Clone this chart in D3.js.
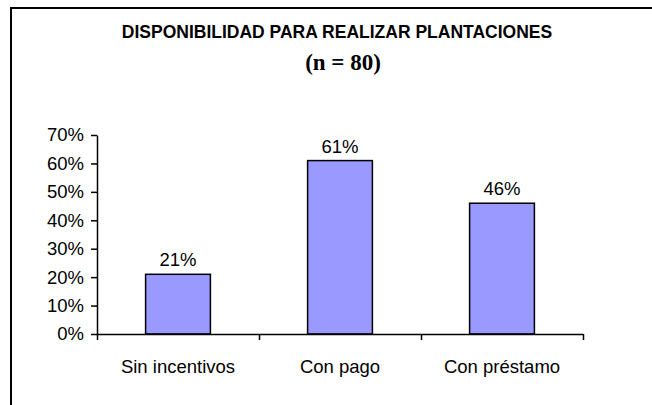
<!DOCTYPE html>
<html>
<head>
<meta charset="utf-8">
<script src="https://cdn.jsdelivr.net/npm/d3@7"></script>
<style>
  html, body { margin: 0; padding: 0; background: #fff; }
  svg { display: block; }
  text { font-family: "Liberation Sans", Arial, sans-serif; fill: #000; }
</style>
</head>
<body>
<svg id="chart" width="652" height="405"></svg>
<script>
const categories = ["Sin incentivos", "Con pago", "Con préstamo"];
const values = [0.21, 0.61, 0.46];
const yTicks = [0, 0.1, 0.2, 0.3, 0.4, 0.5, 0.6, 0.7];
const title = "DISPONIBILIDAD PARA REALIZAR PLANTACIONES";
const subtitle = "(n = 80)";

const svg = d3.select("#chart");

// outer frame (extends beyond the picture on right and bottom)
svg.append("rect")
  .attr("x", 11).attr("y", 8)
  .attr("width", 700).attr("height", 450)
  .attr("fill", "#fff").attr("stroke", "#000").attr("stroke-width", 2);

const x0 = 97, x1 = 583, yTop = 135, yBottom = 334;

const x = d3.scaleBand().domain(categories).range([x0, x1])
  .paddingInner(0.6).paddingOuter(0.3);
const xb = d3.scaleLinear().domain([0, categories.length]).range([x0, x1]);
const y = d3.scaleLinear().domain([0, 0.7]).range([yBottom, yTop]);

const axisFont = "18.5px";

// title
svg.append("text")
  .attr("x", 337).attr("y", 38)
  .attr("text-anchor", "middle")
  .style("font-weight", "bold").style("font-size", "17.5px")
  .text(title);
svg.append("text")
  .attr("x", 343).attr("y", 70)
  .attr("text-anchor", "middle")
  .style("font-family", "'Liberation Serif', 'Times New Roman', serif")
  .style("font-weight", "bold").style("font-size", "23px")
  .text(subtitle);

// bars
svg.selectAll("rect.bar").data(values).enter().append("rect")
  .attr("class", "bar")
  .attr("x", (d, i) => x(categories[i]))
  .attr("width", x.bandwidth())
  .attr("y", d => y(d))
  .attr("height", d => y(0) - y(d))
  .attr("fill", "#9999FF")
  .attr("stroke", "#000").attr("stroke-width", 1.5);

// value labels
svg.selectAll("text.val").data(values).enter().append("text")
  .attr("class", "val")
  .attr("x", (d, i) => x(categories[i]) + x.bandwidth() / 2)
  .attr("y", d => y(d) - 8)
  .attr("text-anchor", "middle")
  .style("font-size", axisFont)
  .text(d => d3.format(".0%")(d));

// y axis
const yAxis = svg.append("g")
  .attr("transform", `translate(${x0},0)`)
  .call(d3.axisLeft(y).tickValues(yTicks).tickFormat(d3.format(".0%")).tickSize(6).tickSizeOuter(0).tickPadding(7));
yAxis.select(".domain").attr("stroke", "#000").attr("stroke-width", 1.5);
yAxis.selectAll(".tick line").attr("stroke", "#000").attr("stroke-width", 1.5);
yAxis.selectAll(".tick text").style("font-size", axisFont).style("font-family", "'Liberation Sans', Arial, sans-serif").attr("fill", "#000");

// x axis with boundary ticks
const xAxis = svg.append("g")
  .attr("transform", `translate(0,${yBottom})`)
  .call(d3.axisBottom(xb).tickValues(d3.range(categories.length + 1)).tickFormat("").tickSize(6).tickSizeOuter(0));
xAxis.select(".domain").attr("stroke", "#000").attr("stroke-width", 1.5);
xAxis.selectAll(".tick line").attr("stroke", "#000").attr("stroke-width", 1.5);

// category labels
svg.selectAll("text.cat").data(categories).enter().append("text")
  .attr("class", "cat")
  .attr("x", d => x(d) + x.bandwidth() / 2)
  .attr("y", 373)
  .attr("text-anchor", "middle")
  .style("font-size", axisFont)
  .text(d => d);
</script>
</body>
</html>
